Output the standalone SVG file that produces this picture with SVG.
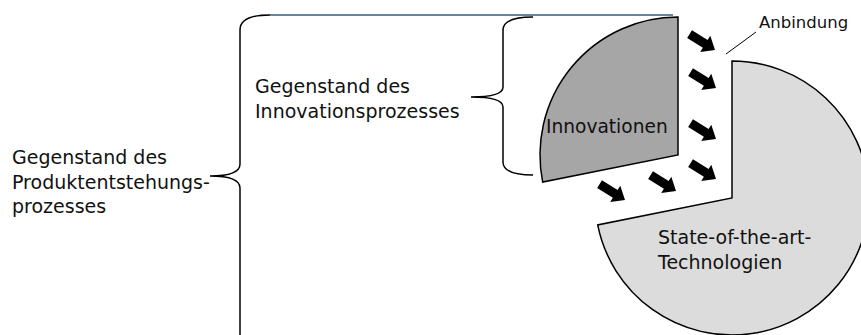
<svg xmlns="http://www.w3.org/2000/svg" xmlns:xlink="http://www.w3.org/1999/xlink" width="861" height="335" viewBox="0 0 861 335">
<style>
.t{font-family:"DejaVu Sans","Liberation Sans",sans-serif;font-size:19px;fill:#111}
.brace{fill:none;stroke:#000;stroke-width:1.5}
.sec{stroke:#000;stroke-width:1.5;stroke-linejoin:miter}
</style>
<defs>
<path id="arr" d="M0,0 L-11.5,-9.5 L-11.5,-4.5 L-30,-4.5 L-30,4.5 L-11.5,4.5 L-11.5,9.5 Z" fill="#000"/>
</defs>
<rect width="861" height="335" fill="#fff"/>
<g id="sota">
<path class="sec" fill="#dcdcdc" d="M732,198 L732,61 A137,137 0 1,1 597.7,224.9 Z"/>
<text class="t" x="658" y="244">State-of-the-art-</text>
<text class="t" x="658" y="269">Technologien</text>
</g>
<g id="innovationen">
<path class="sec" fill="#a6a6a6" d="M678,155 L678,17 A138,138 0 0,0 542.7,182.1 Z"/>
<text class="t" x="546" y="133" style="font-size:18.6px">Innovationen</text>
</g>
<g id="produktentstehung">
<path class="brace" d="M270,15 Q240,15 240,30 L240,164 Q240,176 210,176 Q240,176 240,188 L240,345"/>
<line x1="270" y1="15" x2="673" y2="15" stroke="#2f5a8c" stroke-width="1.5"/>
<text class="t" x="12" y="164">Gegenstand des</text>
<text class="t" x="12" y="188.5">Produktentstehungs-</text>
<text class="t" x="12" y="213">prozesses</text>
</g>
<g id="innovationsprozess">
<path class="brace" d="M533,17 Q503,17 503,30 L503,87 Q503,97 471,97 Q503,97 503,107 L503,162 Q503,175 533,175"/>
<text class="t" x="255" y="93">Gegenstand des</text>
<text class="t" x="255" y="118">Innovationsprozesses</text>
</g>
<g id="anbindung">
<text class="t" x="759" y="28" style="font-size:16.5px">Anbindung</text>
</g>
<g id="connectors">
<line x1="756" y1="32" x2="726" y2="54" stroke="#000" stroke-width="1"/>
<use xlink:href="#arr" transform="translate(715,50) rotate(32)"/>
<use xlink:href="#arr" transform="translate(716,88) rotate(32)"/>
<use xlink:href="#arr" transform="translate(716,139) rotate(32)"/>
<use xlink:href="#arr" transform="translate(716,179) rotate(32)"/>
<use xlink:href="#arr" transform="translate(676,191) rotate(32)"/>
<use xlink:href="#arr" transform="translate(625,200) rotate(32)"/>
</g>
</svg>
